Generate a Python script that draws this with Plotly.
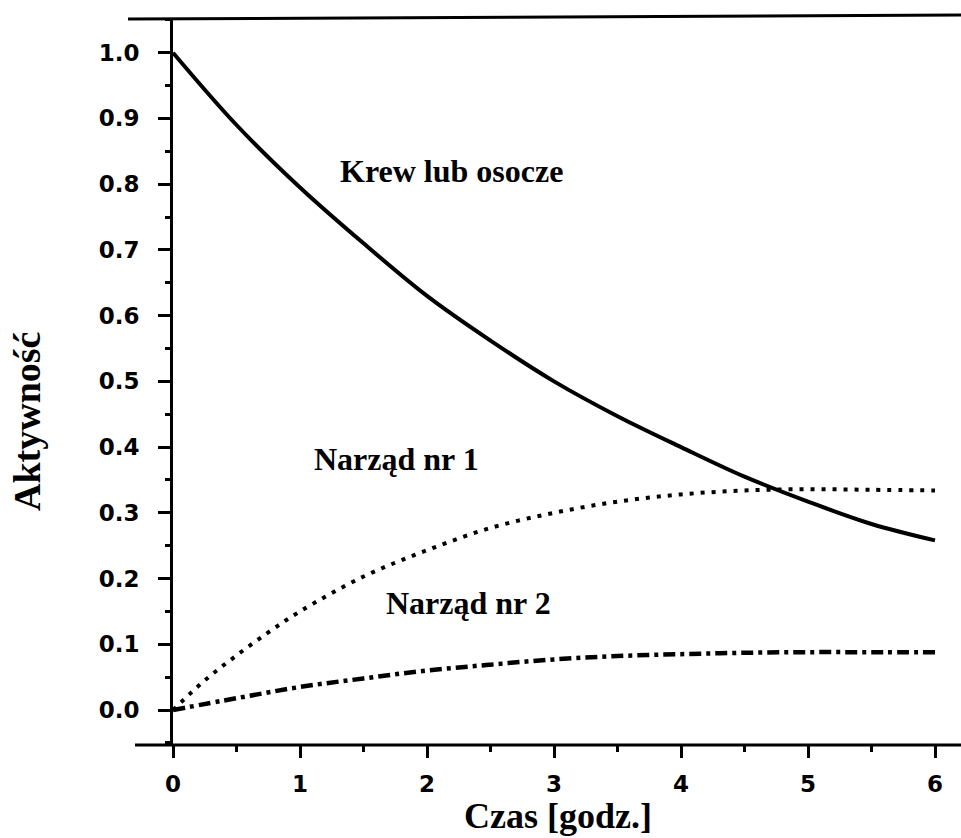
import plotly.graph_objects as go

# ---- data ----
t_blood = [0, 0.5, 1, 1.5, 2, 2.5, 3, 3.5, 4, 4.5, 5, 5.5, 6]
blood = [1.0, 0.89, 0.795, 0.71, 0.63, 0.562, 0.50, 0.447, 0.40, 0.355, 0.317, 0.283, 0.258]

t_org1 = [0, 0.25, 0.5, 0.75, 1, 1.5, 2, 2.5, 3, 3.5, 4, 4.5, 5, 5.5, 6]
org1 = [0.0, 0.045, 0.083, 0.118, 0.150, 0.203, 0.243, 0.277, 0.300, 0.317, 0.328, 0.334, 0.336, 0.335, 0.334]

t_org2 = [0, 0.5, 1, 1.5, 2, 2.5, 3, 3.5, 4, 4.5, 5, 5.5, 6]
org2 = [0.0, 0.018, 0.035, 0.048, 0.060, 0.069, 0.077, 0.082, 0.085, 0.087, 0.088, 0.088, 0.088]

y_ticks = [0.0, 0.1, 0.2, 0.3, 0.4, 0.5, 0.6, 0.7, 0.8, 0.9, 1.0]
x_ticks = [0, 1, 2, 3, 4, 5, 6]

labels = ["Krew lub osocze", "Narząd nr 1", "Narząd nr 2"]
label_x = [2.19, 1.76, 2.33]
label_y = [0.82, 0.382, 0.163]

x_title = "Czas [godz.]"
y_title = "Aktywność"

# ---- figure ----
W, H = 961, 838
L, R, T, B = 173, 961, 18, 745

fig = go.Figure()
fig.add_trace(go.Scatter(x=t_blood, y=blood, mode="lines", line=dict(color="black", width=4, shape="spline"), hoverinfo="skip"))
fig.add_trace(go.Scatter(x=t_org1, y=org1, mode="lines", line=dict(color="black", width=4, dash="4px,7px", shape="spline"), hoverinfo="skip"))
fig.add_trace(go.Scatter(x=t_org2, y=org2, mode="lines", line=dict(color="black", width=4.5, dash="12px,5px,4px,5px", shape="spline"), hoverinfo="skip"))

serif = "Liberation Serif, Times New Roman, serif"
tickfont = dict(family="DejaVu Sans", size=23, color="black", weight="bold")

for txt, xx, yy in zip(labels, label_x, label_y):
    fig.add_annotation(x=xx, y=yy, xref="x", yref="y", text=f"<b>{txt}</b>", showarrow=False,
                       font=dict(family=serif, size=32, color="black"), xanchor="center", yanchor="middle")

pw, ph = R - L, B - T
fig.add_annotation(x=(558 - L) / pw, y=(B - 816) / ph, xref="paper", yref="paper", text=f"<b>{x_title}</b>",
                   showarrow=False, font=dict(family=serif, size=36, color="black"), xanchor="center", yanchor="middle")
fig.add_annotation(x=(27 - L) / pw, y=(B - 422) / ph, xref="paper", yref="paper", text=f"<b>{y_title}</b>",
                   textangle=-90, showarrow=False, font=dict(family=serif, size=38, color="black"),
                   xanchor="center", yanchor="middle")

# frame lines (top and bottom extend to the left of the y axis)
fig.add_shape(type="line", xref="paper", yref="paper", x0=(128 - L) / pw, x1=1.0,
              y0=1 - 1.0 / ph, y1=1 + 3.0 / ph, line=dict(color="black", width=3))
fig.add_shape(type="line", xref="paper", yref="paper", x0=(135 - L) / pw, x1=1.0,
              y0=0, y1=0, line=dict(color="black", width=3))

x_max = (R - L) / 127.0
fig.update_layout(
    width=W, height=H,
    margin=dict(l=L, r=W - R, t=T, b=H - B, pad=0),
    paper_bgcolor="white", plot_bgcolor="white",
    showlegend=False,
    xaxis=dict(range=[0, x_max], tickvals=x_ticks, ticktext=[str(v) for v in x_ticks],
               ticks="outside", ticklen=12, tickwidth=2.5, tickcolor="black",
               showgrid=False, zeroline=False, showline=False, tickfont=tickfont,
               ticklabelstandoff=6,
               minor=dict(dtick=0.5, ticks="outside", ticklen=6, tickwidth=2.5, tickcolor="black", showgrid=False)),
    yaxis=dict(range=[(710 - B) / 657.3, (710 - T) / 657.3], tickvals=y_ticks,
               ticktext=[f"{v:.1f}" for v in y_ticks],
               ticks="outside", ticklen=12, tickwidth=2.5, tickcolor="black",
               showgrid=False, zeroline=False, showline=True, linecolor="black", linewidth=3,
               tickfont=tickfont, ticklabelstandoff=14,
               minor=dict(dtick=0.05, ticks="outside", ticklen=5, tickwidth=2.5, tickcolor="black", showgrid=False)),
)

fig.write_html("out.html", config={"displayModeBar": False},
               post_script="document.body.style.margin='0';document.body.style.overflow='hidden';")
